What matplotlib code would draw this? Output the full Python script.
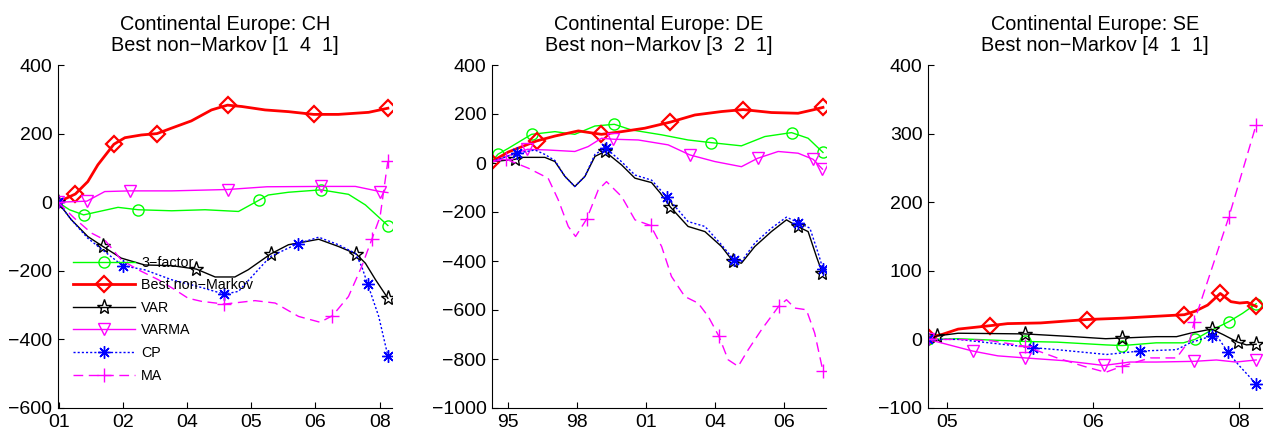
import matplotlib
matplotlib.use("Agg")
import matplotlib.pyplot as plt

# ---------------- CH ----------------
ch_3f_x = [2000.98, 2001.23, 2001.54, 2002.29, 2002.73, 2003.46, 2004.19, 2004.92, 2005.37, 2005.57, 2006.01, 2006.72, 2007.32, 2007.69, 2008.18]
ch_3f = [0, -22, -37, -15, -22, -25, -22, -27, 6, 21, 29, 36, 23, -8, -68]
ch_3f_mk = [2, 4, 8, 11, 14]

ch_best_x = [2000.98, 2001.36, 2001.63, 2001.85, 2002.20, 2002.44, 2002.80, 2003.14, 2003.46, 2003.89, 2004.33, 2004.68, 2004.99, 2005.50, 2006.01, 2006.56, 2007.10, 2007.76, 2008.18]
ch_best = [0, 24, 60, 109, 169, 188, 196, 200, 216, 237, 269, 283, 279, 269, 264, 256, 256, 262, 274]
ch_best_mk = [1, 4, 7, 11, 15, 18]

ch_var_x = [2000.98, 2001.27, 2001.63, 2001.96, 2002.36, 2002.87, 2003.46, 2004.00, 2004.41, 2004.84, 2005.13, 2005.62, 2006.01, 2006.67, 2007.10, 2007.49, 2007.69, 2007.91, 2008.18]
ch_var = [0, -51, -100, -129, -163, -183, -185, -195, -218, -218, -197, -151, -124, -108, -129, -151, -178, -226, -280]
ch_var_mk = [0, 3, 7, 11, 15, 18]

ch_varma_x = [2000.98, 2001.61, 2002.00, 2002.55, 2003.46, 2004.68, 2005.54, 2006.72, 2007.47, 2008.01, 2008.18]
ch_varma = [0, 3, 31, 33, 33, 37, 45, 46, 46, 31, 28]
ch_varma_mk = [0, 1, 3, 5, 7, 9]

ch_cp_x = [2000.98, 2001.27, 2001.63, 2001.96, 2002.39, 2002.87, 2003.46, 2004.04, 2004.61, 2004.92, 2005.28, 2005.61, 2006.21, 2006.67, 2007.10, 2007.47, 2007.61, 2007.74, 2007.98, 2008.18]
ch_cp = [0, -51, -105, -140, -185, -197, -226, -246, -268, -260, -207, -159, -121, -102, -124, -149, -188, -239, -333, -448]
ch_cp_mk = [0, 4, 8, 12, 17, 19]

ch_ma_x = [2000.98, 2001.34, 2001.71, 2002.00, 2002.36, 2002.73, 2003.17, 2003.53, 2003.82, 2004.11, 2004.61, 2005.28, 2005.72, 2006.23, 2006.70, 2006.97, 2007.32, 2007.61, 2007.83, 2008.01, 2008.18]
ch_ma = [0, -47, -90, -110, -168, -197, -226, -255, -280, -289, -297, -287, -294, -333, -350, -331, -275, -187, -108, -42, 120]
ch_ma_mk = [0, 10, 15, 18, 20]

# ---------------- DE ----------------
de_3f_x = [1994.36, 1994.62, 1995.03, 1995.95, 1996.88, 1997.67, 1998.47, 1999.24, 1999.92, 2001.12, 2002.17, 2003.10, 2004.29, 2005.22, 2006.28, 2006.94, 2007.53]
de_3f = [5, 36, 60, 117, 128, 117, 151, 158, 135, 115, 94, 83, 70, 108, 124, 101, 43]
de_3f_mk = [1, 3, 7, 11, 14, 16]

de_best_x = [1994.36, 1995.03, 1996.15, 1996.88, 1997.81, 1998.73, 1999.53, 2000.45, 2001.47, 2002.44, 2003.50, 2004.36, 2005.48, 2006.54, 2007.14, 2007.53]
de_best = [5, 45, 90, 110, 131, 117, 128, 142, 167, 196, 210, 218, 206, 203, 217, 227]
de_best_mk = [0, 2, 5, 8, 11, 15]

de_var_x = [1994.36, 1995.29, 1995.56, 1996.48, 1996.88, 1997.28, 1997.67, 1998.07, 1998.47, 1998.87, 1999.53, 2000.06, 2000.72, 2001.07, 2001.47, 2002.17, 2002.84, 2003.50, 2003.96, 2004.29, 2004.82, 2005.48, 2006.08, 2006.52, 2006.94, 2007.27, 2007.51]
de_var = [5, 15, 23, 23, 6, -55, -96, -55, 27, 47, -8, -62, -80, -123, -180, -259, -280, -341, -402, -409, -341, -280, -232, -259, -280, -382, -450]
de_var_mk = [1, 9, 14, 18, 23, 26]

de_varma_x = [1994.36, 1995.03, 1995.79, 1996.61, 1997.67, 1998.20, 1998.73, 1999.20, 2000.19, 2001.38, 2002.24, 2003.23, 2004.29, 2004.93, 2005.75, 2006.54, 2007.14, 2007.51]
de_varma = [5, 30, 56, 53, 47, 67, 101, 97, 94, 74, 33, 6, -15, 19, 47, 40, 15, -25]
de_varma_mk = [2, 7, 10, 13, 16, 17]

de_cp_x = [1994.36, 1995.36, 1996.09, 1996.48, 1996.88, 1997.28, 1997.67, 1998.07, 1998.47, 1998.89, 1999.53, 2000.06, 2000.72, 2001.34, 2002.17, 2002.84, 2003.50, 2003.99, 2004.29, 2004.82, 2005.48, 2006.08, 2006.54, 2007.01, 2007.34, 2007.53]
de_cp = [5, 40, 53, 35, 10, -55, -96, -55, 35, 62, 5, -49, -70, -140, -239, -259, -334, -395, -402, -327, -266, -221, -243, -266, -368, -433]
de_cp_mk = [1, 9, 13, 17, 22, 25]

de_ma_x = [1994.36, 1994.95, 1995.82, 1996.61, 1997.01, 1997.41, 1997.70, 1998.14, 1998.60, 1998.93, 1999.53, 2000.06, 2000.68, 2001.12, 2001.51, 2002.04, 2002.57, 2002.97, 2003.40, 2003.76, 2004.16, 2004.56, 2005.09, 2005.77, 2006.08, 2006.41, 2006.87, 2007.20, 2007.53]
de_ma = [5, 15, -21, -62, -150, -259, -300, -229, -110, -76, -137, -232, -255, -341, -463, -545, -572, -626, -708, -803, -830, -762, -680, -585, -558, -592, -599, -694, -850]
de_ma_mk = [1, 7, 12, 18, 23, 28]

# ---------------- SE ----------------
se_3f_x = [2004.80, 2005.11, 2005.80, 2006.13, 2006.63, 2006.80, 2007.15, 2007.43, 2007.55, 2007.70, 2007.90, 2008.04, 2008.18]
se_3f = [0, 1, -3, -4, -8, -9, -5, -5, 0, 12, 26, 38, 52]
se_3f_mk = [0, 2, 5, 8, 10, 12]

se_best_x = [2004.80, 2004.94, 2005.11, 2005.44, 2005.62, 2005.96, 2006.44, 2006.81, 2007.44, 2007.55, 2007.68, 2007.81, 2007.92, 2008.01, 2008.09, 2008.18]
se_best = [3, 7, 15, 20, 23, 24, 29, 31, 36, 41, 50, 67, 55, 53, 54, 48]
se_best_mk = [0, 3, 6, 8, 11, 15]

se_var_x = [2004.80, 2004.89, 2005.11, 2005.80, 2006.30, 2006.63, 2006.80, 2007.15, 2007.36, 2007.50, 2007.72, 2007.84, 2007.99, 2008.08, 2008.18]
se_var = [0, 5, 9, 8, 4, 1, 2, 4, 4, 9, 15, 7, -4, -8, -7]
se_var_mk = [1, 3, 6, 10, 12, 14]

se_varma_x = [2004.80, 2005.26, 2005.52, 2005.80, 2006.20, 2006.61, 2006.88, 2007.15, 2007.54, 2007.77, 2007.97, 2008.18]
se_varma = [0, -17, -24, -27, -31, -38, -33, -33, -32, -30, -33, -30]
se_varma_mk = [0, 1, 3, 5, 8, 11]

se_cp_x = [2004.80, 2005.11, 2005.88, 2006.13, 2006.64, 2006.98, 2007.36, 2007.50, 2007.72, 2007.80, 2007.89, 2008.01, 2008.18]
se_cp = [0, 0, -12, -15, -22, -17, -15, -5, 5, 0, -19, -39, -65]
se_cp_mk = [0, 2, 5, 8, 10, 12]

se_ma_x = [2004.80, 2005.11, 2005.45, 2005.80, 2006.13, 2006.40, 2006.63, 2006.80, 2007.09, 2007.36, 2007.50, 2007.54, 2007.90, 2008.18]
se_ma = [0, 0, -2, -10, -27, -39, -48, -39, -27, -27, 0, 25, 179, 313]
se_ma_mk = [0, 3, 7, 11, 12, 13]

# axes / labels
titles = ["Continental Europe: CH\nBest non\u2212Markov [1  4  1]",
          "Continental Europe: DE\nBest non\u2212Markov [3  2  1]",
          "Continental Europe: SE\nBest non\u2212Markov [4  1  1]"]
ch_xticks = [2001.0, 2002.4, 2003.8, 2005.2, 2006.6, 2008.0]
ch_xlabels = ["01", "02", "04", "05", "06", "08"]
de_xticks = [1995.0, 1997.75, 2000.5, 2003.25, 2006.0]
de_xlabels = ["95", "98", "01", "04", "06"]
se_xticks = [2005.0, 2006.5, 2008.0]
se_xlabels = ["05", "06", "08"]
names = ["3\u2212factor", "Best non\u2212Markov", "VAR", "VARMA", "CP", "MA"]

# line styles for the six models
styles = [
    dict(color="#00ff00", ls="-", lw=1.0, marker="o", ms=8, mfc="none", mew=1.0),
    dict(color="#ff0000", ls="-", lw=2.0, marker="D", ms=8.5, mfc="none", mew=1.6),
    dict(color="black", ls="-", lw=1.0, marker="*", ms=11, mfc="none", mew=1.0),
    dict(color="#ff00ff", ls="-", lw=1.0, marker="v", ms=9, mfc="none", mew=1.0),
    dict(color="#0000ff", ls=(0, (1.5, 1.5)), lw=1.0, marker=(8, 2, 0), ms=9, mew=1.0),
    dict(color="#ff00ff", ls=(0, (7, 4)), lw=1.0, marker="+", ms=10, mew=1.0),
]


def draw(ax, series, title, xticks, xlabels, xlim, ylim, yticks):
    lines = []
    for (x, y, mk), st in zip(series, styles):
        ln, = ax.plot(x, y, markevery=mk, **st)
        lines.append(ln)
    ax.set_xlim(xlim)
    ax.set_ylim(ylim)
    ax.set_xticks(xticks)
    ax.set_xticklabels(xlabels)
    ax.set_yticks(yticks)
    ax.set_yticklabels([str(v).replace("-", "\u2212") for v in yticks])
    ax.spines["top"].set_visible(False)
    ax.spines["right"].set_visible(False)
    for s in ["left", "bottom"]:
        ax.spines[s].set_linewidth(0.8)
    ax.tick_params(direction="in", length=4, width=0.8, labelsize=14, pad=4)
    ax.set_title(title, fontsize=14.3, pad=10, linespacing=1.15)
    return lines


def main():
    plt.rcParams["font.family"] = ["Liberation Sans", "DejaVu Sans"]
    fig = plt.figure(figsize=(12.66, 4.38), dpi=100)
    ax1 = fig.add_axes([58 / 1266, 30 / 438, 334 / 1266, 343 / 438])
    ax2 = fig.add_axes([492 / 1266, 30 / 438, 334 / 1266, 343 / 438])
    ax3 = fig.add_axes([928 / 1266, 30 / 438, 334 / 1266, 343 / 438])

    ch = [(ch_3f_x, ch_3f, ch_3f_mk), (ch_best_x, ch_best, ch_best_mk),
          (ch_var_x, ch_var, ch_var_mk), (ch_varma_x, ch_varma, ch_varma_mk),
          (ch_cp_x, ch_cp, ch_cp_mk), (ch_ma_x, ch_ma, ch_ma_mk)]
    de = [(de_3f_x, de_3f, de_3f_mk), (de_best_x, de_best, de_best_mk),
          (de_var_x, de_var, de_var_mk), (de_varma_x, de_varma, de_varma_mk),
          (de_cp_x, de_cp, de_cp_mk), (de_ma_x, de_ma, de_ma_mk)]
    se = [(se_3f_x, se_3f, se_3f_mk), (se_best_x, se_best, se_best_mk),
          (se_var_x, se_var, se_var_mk), (se_varma_x, se_varma, se_varma_mk),
          (se_cp_x, se_cp, se_cp_mk), (se_ma_x, se_ma, se_ma_mk)]

    lines = draw(ax1, ch, titles[0], ch_xticks, ch_xlabels, (2000.98, 2008.27),
                 (-600, 400), [-600, -400, -200, 0, 200, 400])
    draw(ax2, de, titles[1], de_xticks, de_xlabels, (1994.38, 2007.65),
         (-1000, 400), [-1000, -800, -600, -400, -200, 0, 200, 400])
    draw(ax3, se, titles[2], se_xticks, se_xlabels, (2004.80, 2008.24),
         (-100, 400), [-100, 0, 100, 200, 300, 400])

    ax1.legend(lines, names, loc="upper left", bbox_to_anchor=(0.045, 0.444),
               frameon=False, fontsize=10.3, handlelength=4.3, handletextpad=0.45,
               labelspacing=0.6, borderpad=0, borderaxespad=0)

    fig.savefig("out.png", dpi=100)


if __name__ == "__main__":
    main()
